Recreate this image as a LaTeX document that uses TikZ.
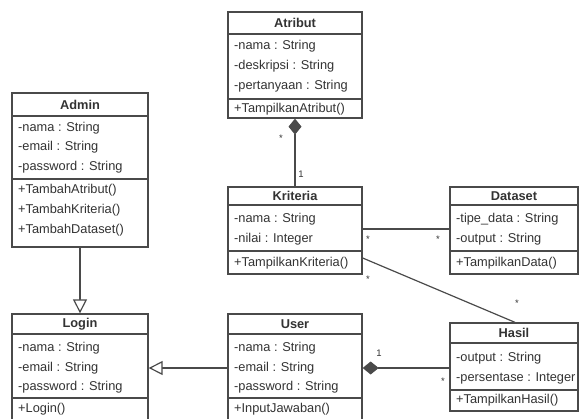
\documentclass[tikz,border=0pt]{standalone}
\usepackage{fontspec}
\setmainfont{Liberation Sans}
\usetikzlibrary{arrows.meta}
\definecolor{ink}{HTML}{333333}
\definecolor{edge}{HTML}{4A4A4A}
\tikzset{
  classbox/.style={draw=edge, line width=1.3pt, fill=white, inner sep=0pt},
  sepline/.style={draw=edge, line width=1.1pt},
  member/.style={anchor=west, inner sep=0pt, text=ink, font=\fontsize{12.8}{14}\selectfont},
  title/.style={inner sep=0pt, text=ink, font=\bfseries\fontsize{12.8}{14}\selectfont},
  mult/.style={inner sep=0pt, text=ink, font=\fontsize{9.5}{10}\selectfont},
  link/.style={draw=edge, line width=1.2pt},
  composite/.style={link, {Diamond[length=16pt, width=13pt]}-},
  inherits/.style={link, -{Triangle[open, length=14pt, width=14pt, fill=white]}},
}
% \umlclass{name}{left}{top}{right}{header y}{separator y}{bottom}{title}
\newcommand{\umlclass}[8]{%
  \node[classbox, minimum width=#4-#2, minimum height=#7-#3] (#1) at ({(#2+#4)/2},{(#3+#7)/2}) {};
  \draw[sepline] (#2,#5) -- (#4,#5);
  \draw[sepline] (#2,#6) -- (#4,#6);
  \node[title] (#1-title) at ({(#2+#4)/2},{(#3+#5)/2}) {#8};
}
\begin{document}
\begin{tikzpicture}[x=1pt, y=-1pt]
  \useasboundingbox (0,0) rectangle (580,419);
  \clip (0,0) rectangle (580,419);

  % Atribut
  \umlclass{atribut}{228}{12}{362}{34}{99}{118}{Atribut}
  \node[member] (atribut-a1) at (234,46) {-nama : String};
  \node[member] (atribut-a2) at (234,66) {-deskripsi : String};
  \node[member] (atribut-a3) at (234,86) {-pertanyaan : String};
  \node[member] (atribut-m1) at (234,109) {+TampilkanAtribut()};

  % Admin
  \umlclass{admin}{12}{93}{148}{116}{179}{247}{Admin}
  \node[member] (admin-a1) at (18,128) {-nama : String};
  \node[member] (admin-a2) at (18,147) {-email : String};
  \node[member] (admin-a3) at (18,167) {-password : String};
  \node[member] (admin-m1) at (18,190) {+TambahAtribut()};
  \node[member] (admin-m2) at (18,210) {+TambahKriteria()};
  \node[member] (admin-m3) at (18,230) {+TambahDataset()};

  % Kriteria
  \umlclass{kriteria}{228}{187}{362}{205}{251}{274}{Kriteria}
  \node[member] (kriteria-a1) at (234,219) {-nama : String};
  \node[member] (kriteria-a2) at (234,239) {-nilai : Integer};
  \node[member] (kriteria-m1) at (234,263) {+TampilkanKriteria()};

  % Dataset
  \umlclass{dataset}{450}{187}{578}{205}{251}{274}{Dataset}
  \node[member] (dataset-a1) at (456,219) {-tipe\_data : String};
  \node[member] (dataset-a2) at (456,239) {-output : String};
  \node[member] (dataset-m1) at (456,263) {+TampilkanData()};

  % Login
  \umlclass{login}{12}{314}{148}{334}{398}{421}{Login}
  \node[member] (login-a1) at (18,348) {-nama : String};
  \node[member] (login-a2) at (18,368) {-email : String};
  \node[member] (login-a3) at (18,387) {-password : String};
  \node[member] (login-m1) at (18,409) {+Login()};

  % User
  \umlclass{user}{228}{314}{362}{334}{398}{421}{User}
  \node[member] (user-a1) at (234,348) {-nama : String};
  \node[member] (user-a2) at (234,368) {-email : String};
  \node[member] (user-a3) at (234,387) {-password : String};
  \node[member] (user-m1) at (234,409) {+InputJawaban()};

  % Hasil
  \umlclass{hasil}{450}{323}{578}{343}{390}{411}{Hasil}
  \node[member] (hasil-a1) at (456,358) {-output : String};
  \node[member] (hasil-a2) at (456,378) {-persentase : Integer};
  \node[member] (hasil-m1) at (456,400) {+TampilkanHasil()};

  % Atribut <>-- Kriteria
  \draw[composite] (atribut.south) -- (kriteria.north);
  \node[mult] (m-atr) at (281,138) {*};
  \node[mult] (m-kri1) at (301,174) {1};

  % Admin --|> Login
  \draw[inherits] (admin.south -| 80,0) -- (login.north -| 80,0);

  % User --|> Login
  \draw[inherits] (user.west |- 0,368) -- (login.east |- 0,368);

  % Kriteria -- Dataset
  \draw[link] (kriteria.east |- 0,229) -- (dataset.west |- 0,229);
  \node[mult] (m-kd1) at (368,239) {*};
  \node[mult] (m-kd2) at (438,239) {*};

  % Kriteria -- Hasil
  \draw[link] (kriteria.east |- 0,258) -- (hasil.north -| 515,0);
  \node[mult] (m-kh1) at (368,279) {*};
  \node[mult] (m-kh2) at (517,303) {*};

  % User <>-- Hasil
  \draw[composite] (user.east |- 0,368) -- (hasil.west |- 0,368);
  \node[mult] (m-uh1) at (379,353) {1};
  \node[mult] (m-uh2) at (443,381) {*};
\end{tikzpicture}
\end{document}
